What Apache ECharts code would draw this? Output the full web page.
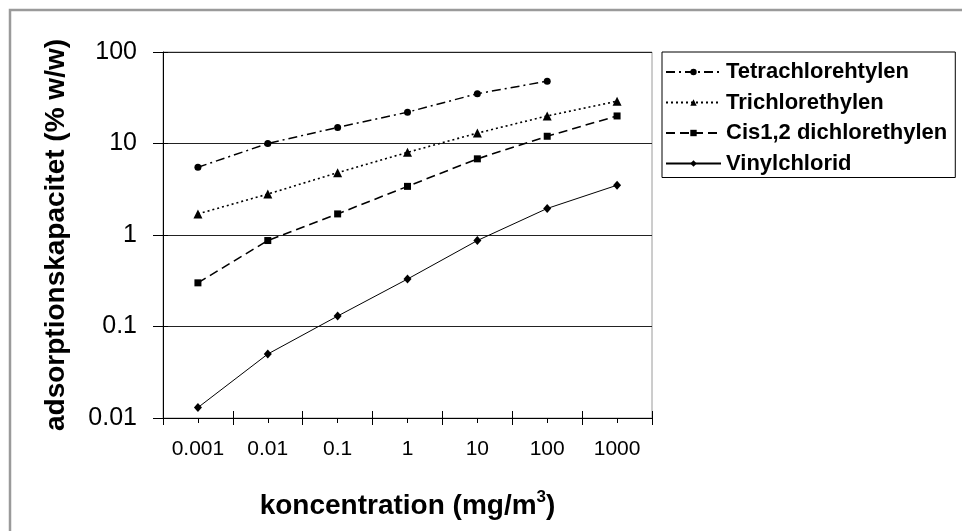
<!DOCTYPE html>
<html>
<head>
<meta charset="utf-8">
<script src="https://cdn.jsdelivr.net/npm/echarts@6/dist/echarts.min.js"></script>
<style>
  html, body { margin: 0; padding: 0; background: #fff; }
  #chart { width: 962px; height: 531px; }
</style>
</head>
<body>
<div id="chart"></div>
<script>
  // koncentration (mg/m3)
  var categories = ['0.001', '0.01', '0.1', '1', '10', '100', '1000'];
  var yTicks = [0.01, 0.1, 1, 10, 100];

  // adsorptionskapacitet (% w/w)
  var tetrachlor = [5.5, 10, 15, 22, 35, 48];
  var trichlor = [1.7, 2.8, 4.8, 8, 13, 20, 29];
  var cisDichlor = [0.3, 0.87, 1.7, 3.4, 6.8, 12, 20];
  var vinylchlorid = [0.013, 0.05, 0.13, 0.33, 0.87, 1.95, 3.5];

  var font = 'Liberation Sans, Arial, sans-serif';
  var gridBox = { left: 163, right: 310, top: 52, bottom: 113 };

  function fmt(v) { return String(parseFloat(Number(v).toPrecision(6))); }

  var chart = echarts.init(document.getElementById('chart'));
  var option = {
    backgroundColor: '#fff',
    animation: false,
    graphic: [{
      type: 'rect',
      shape: { x: 10, y: 10, width: 980, height: 560 },
      style: { fill: 'none', stroke: '#9a9a9a', lineWidth: 2.5 },
      silent: true
    }],
    legend: {
      orient: 'vertical',
      left: 662,
      top: 52,
      padding: [9, 8, 3, 3],
      itemGap: 8.5,
      itemWidth: 55,
      itemHeight: 8,
      borderColor: '#000',
      borderWidth: 1,
      textStyle: { fontFamily: font, fontSize: 22, fontWeight: 'bold', color: '#000', lineHeight: 22 },
      data: ['Tetrachlorehtylen', 'Trichlorethylen', 'Cis1,2 dichlorethylen', 'Vinylchlorid']
    },
    grid: [
      Object.assign({ show: true, borderColor: '#9a9a9a', borderWidth: 1, backgroundColor: 'transparent' }, gridBox),
      Object.assign({}, gridBox),
      Object.assign({}, gridBox)
    ],
    xAxis: [{
      gridIndex: 0,
      type: 'category',
      data: categories,
      boundaryGap: true,
      name: '{a|koncentration (mg/m}{s|3}{a|)}',
      nameLocation: 'middle',
      nameGap: 71,
      nameTextStyle: {
        rich: {
          a: { fontFamily: font, fontSize: 28, fontWeight: 'bold', color: '#000', verticalAlign: 'bottom', lineHeight: 31 },
          s: { fontFamily: font, fontSize: 17, fontWeight: 'bold', color: '#000', verticalAlign: 'top', lineHeight: 31, padding: [0, 0, 12, 0] }
        }
      },
      axisLine: { lineStyle: { color: '#000', width: 1 } },
      axisTick: { show: true, interval: 0, alignWithLabel: false, length: 7, lineStyle: { color: '#000' } },
      axisLabel: { interval: 0, margin: 21, fontFamily: font, fontSize: 21, color: '#000' },
      splitLine: { show: false }
    }, {
      gridIndex: 1,
      type: 'category',
      data: categories,
      boundaryGap: true,
      axisLine: { show: false },
      axisTick: { show: true, interval: 0, alignWithLabel: true, length: 5, lineStyle: { color: '#000' } },
      axisLabel: { show: false },
      splitLine: { show: false }
    }, {
      gridIndex: 2,
      type: 'category',
      data: categories,
      boundaryGap: true,
      axisLine: { show: false },
      axisTick: { show: true, inside: true, interval: 0, length: 7, lineStyle: { color: '#000' } },
      axisLabel: { show: false },
      splitLine: { show: false }
    }],
    yAxis: [{
      gridIndex: 0,
      type: 'log',
      logBase: 10,
      min: yTicks[0],
      max: yTicks[yTicks.length - 1],
      name: 'adsorptionskapacitet (% w/w)',
      nameLocation: 'middle',
      nameGap: 93,
      nameTextStyle: { fontFamily: font, fontSize: 28, fontWeight: 'bold', color: '#000' },
      axisLine: { show: true, lineStyle: { color: '#000', width: 1 } },
      axisTick: { show: true, length: 10, lineStyle: { color: '#000' } },
      axisLabel: { margin: 26, fontFamily: font, fontSize: 25, color: '#000', formatter: fmt },
      splitLine: { show: true, lineStyle: { color: '#222', width: 1 } }
    }, {
      gridIndex: 1,
      type: 'log',
      logBase: 10,
      min: yTicks[0],
      max: yTicks[yTicks.length - 1],
      axisLine: { show: false },
      axisTick: { show: true, inside: true, length: 5, lineStyle: { color: '#000' } },
      axisLabel: { show: false },
      splitLine: { show: false }
    }, {
      gridIndex: 2,
      type: 'log',
      logBase: 10,
      min: yTicks[0],
      max: yTicks[yTicks.length - 1],
      show: false
    }],
    series: [{
      name: 'Tetrachlorehtylen',
      type: 'line',
      data: tetrachlor,
      symbol: 'circle',
      symbolSize: 7,
      itemStyle: { color: '#000' },
      lineStyle: { color: '#000', width: 1.5, type: [9, 4, 2, 4] }
    }, {
      name: 'Trichlorethylen',
      type: 'line',
      data: trichlor,
      symbol: 'triangle',
      symbolSize: 9,
      itemStyle: { color: '#000' },
      lineStyle: { color: '#000', width: 1.6, type: [2, 3] }
    }, {
      name: 'Cis1,2 dichlorethylen',
      type: 'line',
      data: cisDichlor,
      symbol: 'rect',
      symbolSize: 7,
      itemStyle: { color: '#000' },
      lineStyle: { color: '#000', width: 1.6, type: [9, 5] }
    }, {
      name: 'Vinylchlorid',
      type: 'line',
      data: vinylchlorid,
      symbol: 'diamond',
      symbolSize: [8, 9],
      itemStyle: { color: '#000' },
      lineStyle: { color: '#000', width: 1, type: 'solid' }
    }]
  };
  chart.setOption(option);
</script>
</body>
</html>
